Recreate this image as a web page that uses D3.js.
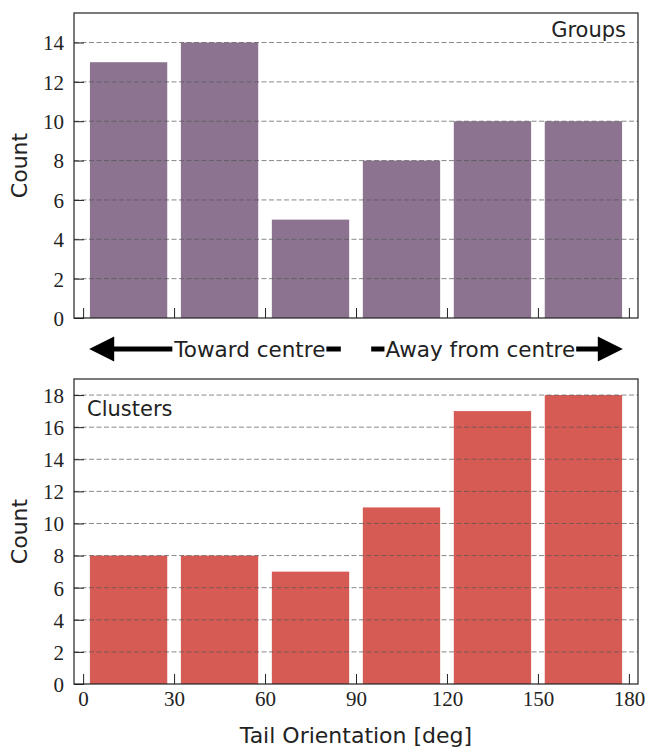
<!DOCTYPE html>
<html>
<head>
<meta charset="utf-8">
<script src="https://cdn.jsdelivr.net/npm/d3@7"></script>
<style>
    body { margin: 0; background: #fff; }
    .tick text { font-family: "Liberation Serif", serif; font-size: 21px; fill: #222; }
    .tick line { stroke: #222; }
    .lbl { font-family: "DejaVu Sans", sans-serif; fill: #222; }
</style>
</head>
<body>
<svg id="chart" width="647" height="749"></svg>
<script>

// bins are 30 deg wide, left edges
var binStarts = [0, 30, 60, 90, 120, 150];
var xTickValues = [0, 30, 60, 90, 120, 150, 180];
var groupCounts = [13, 14, 5, 8, 10, 10];
var clusterCounts = [8, 8, 7, 11, 17, 18];
var groupTicks = [0, 2, 4, 6, 8, 10, 12, 14];
var clusterTicks = [0, 2, 4, 6, 8, 10, 12, 14, 16, 18];

var svg = d3.select("#chart");
var left = 74, right = 638;

var x = d3.scaleLinear().domain([-3, 183]).range([left, right]);
var barW = 30 * 0.85;

function panel(opts) {
    var y = d3.scaleLinear().domain([0, opts.ymax]).range([opts.bottom, opts.top]);
    var g = svg.append("g");

    // bars
    g.selectAll("rect.bar")
        .data(opts.values)
        .enter().append("rect")
        .attr("class", "bar")
        .attr("x", function (d, i) { return x(binStarts[i] + (30 - barW) / 2); })
        .attr("width", x(barW) - x(0))
        .attr("y", function (d) { return y(d); })
        .attr("height", function (d) { return y(0) - y(d); })
        .attr("fill", opts.color);

    // dashed grid over the bars
    g.selectAll("line.grid")
        .data(opts.ticks.filter(function (t) { return t > 0; }))
        .enter().append("line")
        .attr("x1", left).attr("x2", right)
        .attr("y1", function (d) { return y(d); })
        .attr("y2", function (d) { return y(d); })
        .attr("stroke", "#555")
        .attr("stroke-opacity", 0.7)
        .attr("stroke-width", 1)
        .attr("stroke-dasharray", "5,2.5");

    // axes with inward ticks
    var xAxis = d3.axisBottom(x).tickValues(xTickValues).tickSize(-10).tickPadding(7);
    if (!opts.xLabels) xAxis.tickFormat("");
    var gx = g.append("g")
        .attr("transform", "translate(0," + opts.bottom + ")")
        .call(xAxis);
    gx.select(".domain").remove();

    var gy = g.append("g")
        .attr("transform", "translate(" + left + ",0)")
        .call(d3.axisLeft(y).tickValues(opts.ticks).tickSize(-10).tickPadding(10));
    gy.select(".domain").remove();
    gy.selectAll(".tick text").attr("dy", "0.35em");

    // frame
    g.append("rect")
        .attr("x", left).attr("y", opts.top)
        .attr("width", right - left).attr("height", opts.bottom - opts.top)
        .attr("fill", "none").attr("stroke", "#222").attr("stroke-width", 1.2);

    // y label
    g.append("text")
        .attr("class", "lbl")
        .attr("transform", "translate(27," + ((opts.top + opts.bottom) / 2) + ") rotate(-90)")
        .attr("text-anchor", "middle")
        .attr("font-size", 22)
        .text("Count");

    // panel name
    g.append("text")
        .attr("class", "lbl")
        .attr("x", opts.nameX)
        .attr("y", opts.top + opts.nameDy)
        .attr("text-anchor", opts.nameAnchor)
        .attr("font-size", 21)
        .text(opts.name);

    return y;
}

panel({ values: groupCounts, ticks: groupTicks, ymax: 15.5, top: 13, bottom: 318,
        color: "#8c7491", name: "Groups", nameX: 626, nameDy: 24, nameAnchor: "end", xLabels: false });
panel({ values: clusterCounts, ticks: clusterTicks, ymax: 19, top: 379, bottom: 684,
        color: "#d75b55", name: "Clusters", nameX: 87, nameDy: 37, nameAnchor: "start", xLabels: true });

svg.append("text")
    .attr("class", "lbl")
    .attr("x", (left + right) / 2)
    .attr("y", 743)
    .attr("text-anchor", "middle")
    .attr("font-size", 22)
    .text("Tail Orientation [deg]");

// direction arrows between the panels
var arrowY = 349;
var arrows = [
    { from: 85, to: 2, label: "Toward centre", at: 55 },
    { from: 95, to: 178, label: "Away from centre", at: 131 }
];

arrows.forEach(function (a) {
    var x0 = x(a.from), x1 = x(a.to);
    var dir = x1 > x0 ? 1 : -1;
    var headLen = 25, headH = 12.5;
    svg.append("line")
        .attr("x1", x0).attr("x2", x1 - dir * headLen + dir * 2)
        .attr("y1", arrowY).attr("y2", arrowY)
        .attr("stroke", "#000").attr("stroke-width", 5);
    svg.append("path")
        .attr("d", "M" + x1 + "," + arrowY +
            "L" + (x1 - dir * headLen) + "," + (arrowY - headH) +
            "L" + (x1 - dir * headLen) + "," + (arrowY + headH) + "Z")
        .attr("fill", "#000");

    var t = svg.append("text")
        .attr("class", "lbl")
        .attr("x", x(a.at))
        .attr("y", arrowY)
        .attr("dy", "0.35em")
        .attr("text-anchor", "middle")
        .attr("font-size", 21.5)
        .text(a.label);
    var bb = t.node().getBBox();
    svg.insert("rect", function () { return t.node(); })
        .attr("x", bb.x - 1).attr("y", bb.y)
        .attr("width", bb.width + 2).attr("height", bb.height)
        .attr("fill", "#fff");
});

</script>
</body>
</html>
